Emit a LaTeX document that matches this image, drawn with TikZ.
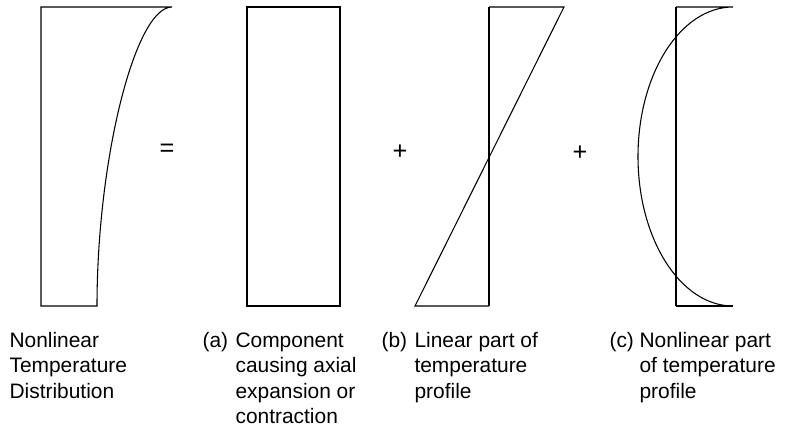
\documentclass[tikz,border=0pt]{standalone}
\usepackage{fontspec}
\setmainfont{Liberation Sans}
\begin{document}
\begin{tikzpicture}[x=0.75pt, y=-0.75pt, line width=0.8pt,
    caption/.style={anchor=base west, inner sep=0pt, font=\fontsize{15.7}{19.2}\selectfont},
    sign/.style={inner sep=0pt, font=\fontsize{19}{22}\selectfont}]
    \useasboundingbox (0,0) rectangle (793,430);

    % Nonlinear temperature distribution
    \draw (172,7) -- (41,7) -- (41,306) -- (97,306) .. controls (97,160) and (135,7) .. (172,7);

    % (a) uniform component
    \draw (247,7) rectangle (340,306);

    % (b) linear part
    \draw (489,7) -- (489,306);
    \draw (489,7) -- (564,7) -- (415,306) -- (489,306);

    % (c) nonlinear part
    \draw (676,7) -- (676,306);
    \draw (676,306) -- (733,306);
    \draw (676,7) -- (733,7) arc[start angle=90, end angle=270, x radius=71.25pt, y radius=112.125pt];

    % Signs
    \node[sign] (equal) at (167,150) {=};
    \node[sign] (plusB) at (400,152) {+};
    \node[sign] (plusC) at (580,153) {+};

    % Labels
    \node[caption] (lblNL) at (9,347) {\begin{tabular}[t]{@{}l@{}}Nonlinear\\Temperature\\Distribution\end{tabular}};
    \node[caption] (tagA) at (202,347) {(a)};
    \node[caption] (lblA) at (235,347) {\begin{tabular}[t]{@{}l@{}}Component\\causing axial\\expansion or\\contraction\end{tabular}};
    \node[caption] (tagB) at (381,347) {(b)};
    \node[caption] (lblB) at (414,347) {\begin{tabular}[t]{@{}l@{}}Linear part of\\temperature\\profile\end{tabular}};
    \node[caption] (tagC) at (609,347) {(c)};
    \node[caption] (lblC) at (639,347) {\begin{tabular}[t]{@{}l@{}}Nonlinear part\\of temperature\\profile\end{tabular}};
\end{tikzpicture}
\end{document}
